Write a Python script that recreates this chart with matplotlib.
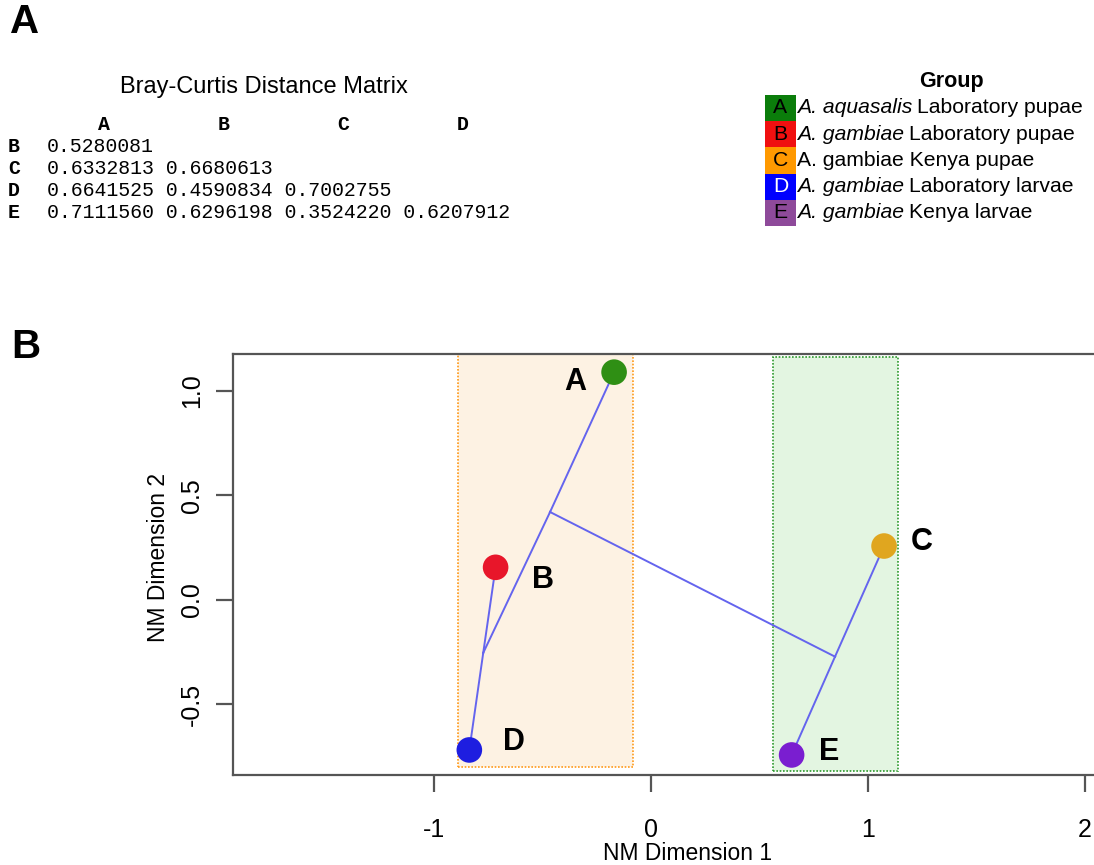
import matplotlib
matplotlib.use('Agg')
import matplotlib.pyplot as plt
from matplotlib.patches import Rectangle

plt.rcParams['font.family'] = ['Liberation Sans', 'DejaVu Sans']

W, H = 1094, 865

# Bray-Curtis distances, lower triangle
matrix_cols = ['A', 'B', 'C', 'D']
matrix_rows = ['B', 'C', 'D', 'E']
bray_curtis = [
    [0.5280081],
    [0.6332813, 0.6680613],
    [0.6641525, 0.4590834, 0.7002755],
    [0.7111560, 0.6296198, 0.3524220, 0.6207912],
]

# groups
group_codes = ['A', 'B', 'C', 'D', 'E']
group_species = ['A. aquasalis', 'A. gambiae', 'A. gambiae', 'A. gambiae', 'A. gambiae']
species_italic = [True, True, False, True, True]
group_desc = ['Laboratory pupae', 'Laboratory pupae', 'Kenya pupae',
              'Laboratory larvae', 'Kenya larvae']
legend_colors = ['#0b7d0b', '#f01010', '#ff9900', '#0000ff', '#8e4a9a']
code_colors = ['black', 'black', 'black', 'white', 'black']

# NMDS coordinates
nm1 = [-0.17, -0.716, 1.074, -0.837, 0.648]
nm2 = [1.09, 0.155, 0.257, -0.72, -0.744]
point_colors = ['#2f8f14', '#e8162a', '#e0a61f', '#1e1ee0', '#7a1ed0']

# internal nodes of the tree and its edges
junctions = {'J1': (-0.465, 0.42), 'J2': (-0.773, -0.255), 'J3': (0.848, -0.273)}
edges = [('A', 'J1'), ('J1', 'J2'), ('B', 'J2'), ('J2', 'D'),
         ('J1', 'J3'), ('C', 'J3'), ('J3', 'E')]

# shaded clusters: (x0, x1, y0, y1)
cluster_spans = [(-0.889, -0.084, -0.80, 1.183), (0.561, 1.137, -0.819, 1.163)]
cluster_fill = ['#fdf2e3', '#e3f5e1']
cluster_edge = ['#ff9a1a', '#2e9a2e']

xticks = [-1, 0, 1, 2]
yticks = [-0.5, 0.0, 0.5, 1.0]


def px(x, y):
    return x / W, 1 - y / H


fig = plt.figure(figsize=(W / 100, H / 100), dpi=100)

# ---- panel A: distance matrix text ----
fig.text(*px(25, 22), 'A', fontsize=29, fontweight='bold', ha='center', va='center')
fig.text(*px(264, 87), 'Bray-Curtis Distance Matrix', fontsize=17, ha='center', va='center')

char_w = 11.95
x0 = 47
mono = dict(family='Liberation Mono', fontsize=14.3, va='center')
for i, c in enumerate(matrix_cols):
    fig.text(*px(x0 + (10 * i + 4.8) * char_w, 125), c, ha='center', fontweight='bold', **mono)
for j, (r, vals) in enumerate(zip(matrix_rows, bray_curtis)):
    y = 147 + j * 21.7
    fig.text(*px(14, y), r, ha='center', fontweight='bold', **mono)
    fig.text(*px(x0, y), ' '.join('%.7f' % v for v in vals), ha='left', **mono)

# legend
fig.text(*px(951, 81), 'Group', fontsize=15.5, fontweight='bold', ha='center', va='center')
fig.canvas.draw()
renderer = fig.canvas.get_renderer()
row_h = 26.3
fs = 15.2
for i, code in enumerate(group_codes):
    top = 94.6 + i * row_h
    fig.patches.append(Rectangle(px(765, top + row_h), 31 / W, row_h / H,
                                 transform=fig.transFigure, facecolor=legend_colors[i],
                                 edgecolor='none'))
    yc = top + row_h / 2
    fig.text(*px(780.5, yc), code, fontsize=fs, color=code_colors[i], ha='center', va='center')
    if species_italic[i]:
        t = fig.text(*px(797, yc), group_species[i], fontsize=fs, style='italic',
                     ha='left', va='center')
        w = t.get_window_extent(renderer).width
        fig.text(*px(797 + w + 5, yc), group_desc[i], fontsize=fs, ha='left', va='center')
    else:
        fig.text(*px(797, yc), group_species[i] + ' ' + group_desc[i], fontsize=fs,
                 ha='left', va='center')

# ---- panel B: NMDS ordination ----
fig.text(*px(26, 347), 'B', fontsize=29, fontweight='bold', ha='center', va='center')

ax_l, ax_r, ax_t, ax_b = 233, 1100, 354, 775
ax = fig.add_axes([ax_l / W, 1 - ax_b / H, (ax_r - ax_l) / W, (ax_b - ax_t) / H])
ax.set_xlim(-1.926, 2.069)
ax.set_ylim(-0.840, 1.177)

for (xa, xb, ya, yb), fc, ec in zip(cluster_spans, cluster_fill, cluster_edge):
    ax.add_patch(Rectangle((xa, ya), xb - xa, yb - ya, facecolor=fc, edgecolor=ec,
                           linestyle=(0, (1, 1)), linewidth=1.2, zorder=1))

nodes = {c: (x, y) for c, x, y in zip(group_codes, nm1, nm2)}
nodes.update(junctions)
for a, b in edges:
    ax.plot([nodes[a][0], nodes[b][0]], [nodes[a][1], nodes[b][1]],
            color='#6464ee', linewidth=1.4, zorder=2)

ax.scatter(nm1, nm2, s=340, c=point_colors, edgecolors='none', zorder=3)

label_offsets = [(-28, -7), (34, -9), (27, 3), (32, 6), (27, 2)]
for code, x, y, off in zip(group_codes, nm1, nm2, label_offsets):
    ax.annotate(code, (x, y), xytext=off, textcoords='offset points', fontsize=22,
                fontweight='bold', ha='center', va='center', zorder=4)

for side in ['left', 'bottom', 'top']:
    ax.spines[side].set_color('#555555')
    ax.spines[side].set_linewidth(1.6)
ax.spines['right'].set_visible(False)

ax.set_xticks(xticks)
ax.set_xticklabels(['%g' % v for v in xticks])
ax.set_yticks(yticks)
ax.set_yticklabels(['%.1f' % v for v in yticks])
ax.tick_params(length=12, width=1.6, color='#555555', labelsize=18, pad=19)
ax.tick_params(axis='y', labelrotation=90, pad=9)
for lab in ax.get_yticklabels():
    lab.set_va('center')

ax.set_xlabel('NM Dimension 1', fontsize=16.5)
ax.set_ylabel('NM Dimension 2', fontsize=16.5)
ax.xaxis.set_label_coords((688 - ax_l) / (ax_r - ax_l), (ax_b - 842) / (ax_b - ax_t))
ax.yaxis.set_label_coords((170 - ax_l) / (ax_r - ax_l), (ax_b - 558) / (ax_b - ax_t))

fig.savefig('out.png', dpi=100)
